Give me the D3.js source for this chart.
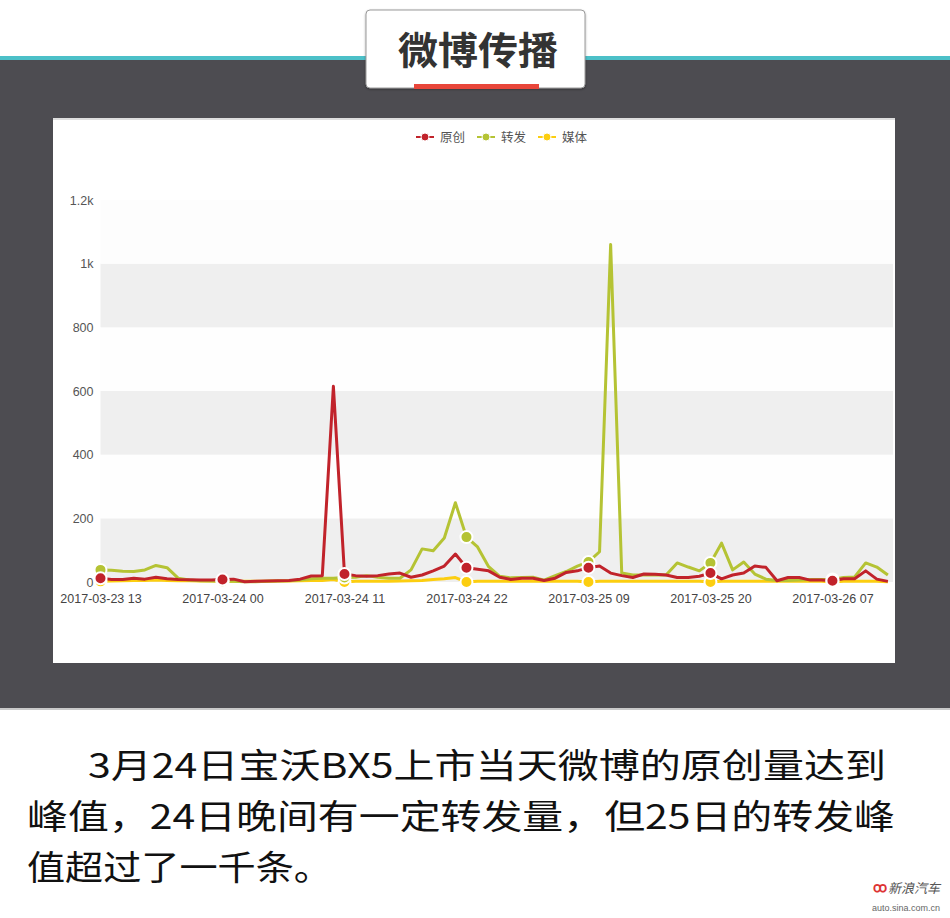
<!DOCTYPE html>
<html>
<head>
<meta charset="utf-8">
<script src="https://cdn.jsdelivr.net/npm/d3@7"></script>
<style>
  html, body { margin: 0; padding: 0; background: #fff; }
  svg { display: block; }
</style>
</head>
<body>
<svg id="chart" width="950" height="918"></svg>
<script>
// ---------- data ----------
const startHour = "2017-03-23 13";
const tickLabels = ["2017-03-23 13", "2017-03-24 00", "2017-03-24 11", "2017-03-24 22", "2017-03-25 09", "2017-03-25 20", "2017-03-26 07"];
const seriesNames = ["原创", "转发", "媒体"];
const original = [12, 8, 8, 12, 9, 15, 10, 8, 7, 6, 6, 8, 9, 1, 2, 3, 4, 5, 9, 19, 20, 615,
  25, 20, 18, 20, 25, 28, 15, 22, 35, 50, 88, 45, 40, 35, 15, 8, 12, 12, 5, 12, 30, 35,
  45, 50, 28, 20, 14, 25, 24, 22, 14, 14, 18, 28, 10, 22, 28, 50, 46, 4, 14, 14, 6, 6,
  4, 10, 10, 35, 9, 2];
const reposts = [38, 37, 34, 33, 38, 52, 45, 12, 6, 4, 3, 2, 2, 1, 1, 2, 3, 4, 6, 10, 12, 12,
  14, 15, 20, 15, 12, 12, 38, 104, 98, 138, 249, 141, 110, 48, 18, 13, 14, 15, 6, 20, 33,
  50, 63, 95, 1060, 28, 22, 22, 22, 22, 60, 47, 35, 60, 122, 38, 63, 25, 9, 5, 5, 6, 8,
  8, 8, 14, 16, 60, 47, 22];
const media = [2, 3, 4, 5, 5, 6, 5, 4, 4, 3, 3, 2, 2, 2, 2, 2, 3, 3, 4, 5, 5, 8,
  0, 2, 2, 2, 2, 3, 4, 5, 8, 10, 14, 0, 2, 2, 2, 2, 2, 2, 2, 2, 2, 2,
  0, 2, 2, 2, 2, 2, 2, 2, 2, 2, 2, 0, 2, 2, 2, 2, 2, 2, 2, 2, 2, 2,
  0, 2, 2, 2, 2, 1];
const yTicks = [0, 200, 400, 600, 800, 1000, 1200];
const yTickLabels = ["0", "200", "400", "600", "800", "1k", "1.2k"];
const colors = ["#c1232b", "#b5c334", "#fcce10"];
const captionLines = ["3月24日宝沃BX5上市当天微博的原创量达到", "峰值，24日晚间有一定转发量，但25日的转发峰", "值超过了一千条。"];

// categories: hourly timestamps
const parse = d3.timeParse("%Y-%m-%d %H");
const fmt = d3.timeFormat("%Y-%m-%d %H");
const t0 = parse(startHour);
const categories = original.map((_, i) => fmt(d3.timeHour.offset(t0, i)));

const svg = d3.select("#chart");
const CJK = "'Noto Sans CJK SC','Noto Sans',sans-serif";
const LAT = "'Liberation Sans',Arial,sans-serif";

// ---------- page decoration ----------
svg.append("rect").attr("x", 0).attr("y", 0).attr("width", 950).attr("height", 918).attr("fill", "#fff");
svg.append("rect").attr("x", 0).attr("y", 59).attr("width", 950).attr("height", 650).attr("fill", "#4d4c51");
svg.append("rect").attr("x", 0).attr("y", 56).attr("width", 950).attr("height", 4).attr("fill", "#4cc0c8");
svg.append("rect").attr("x", 0).attr("y", 708).attr("width", 950).attr("height", 2).attr("fill", "#c9c9c9");

// title box
const defs = svg.append("defs");
const f = defs.append("filter").attr("id", "sh").attr("x", "-10%").attr("y", "-10%").attr("width", "120%").attr("height", "130%");
f.append("feDropShadow").attr("dx", 0).attr("dy", 1).attr("stdDeviation", 1.2).attr("flood-color", "#000").attr("flood-opacity", 0.35);
svg.append("rect").attr("x", 366).attr("y", 10).attr("width", 219).attr("height", 78).attr("rx", 4)
  .attr("fill", "#fff").attr("stroke", "#9a9a9a").attr("stroke-width", 1).attr("filter", "url(#sh)");
svg.append("text").attr("x", 478).attr("y", 64).attr("text-anchor", "middle")
  .attr("font-family", CJK).attr("font-weight", "bold").attr("font-size", 38).attr("fill", "#333")
  .attr("textLength", 160).attr("lengthAdjust", "spacingAndGlyphs").text("微博传播");
svg.append("rect").attr("x", 414).attr("y", 84).attr("width", 125).attr("height", 5).attr("fill", "#e8463a");

// chart panel
svg.append("rect").attr("x", 53).attr("y", 118).attr("width", 842).attr("height", 545).attr("fill", "#fff");
svg.append("rect").attr("x", 53).attr("y", 118).attr("width", 842).attr("height", 2).attr("fill", "#dedede");

// ---------- scales ----------
const plotLeft = 100.5, plotRight = 893, yZero = 582, yTop = 200;
const step = 11.09;
const x = d3.scalePoint().domain(categories).range([plotLeft, plotLeft + step * (categories.length - 1)]);
const y = d3.scaleLinear().domain([0, 1200]).range([yZero, yTop]);

// grid bands
const g = svg.append("g");
yTicks.slice(0, -1).forEach((v, i) => {
  g.append("rect").attr("x", plotLeft).attr("width", plotRight - plotLeft)
    .attr("y", y(yTicks[i + 1])).attr("height", y(v) - y(yTicks[i + 1]))
    .attr("fill", i % 2 === 0 ? "#efefef" : (i === 5 ? "#fdfdfd" : "#fefefe"));
});

// y axis
const yAxis = d3.axisLeft(y).tickValues(yTicks).tickFormat((d, i) => yTickLabels[i]).tickSize(0).tickPadding(7);
const ya = svg.append("g").attr("transform", `translate(${plotLeft},0)`).call(yAxis);
ya.select(".domain").remove();
ya.selectAll("text").attr("font-family", LAT).attr("font-size", 12.5).attr("fill", "#555");

// x axis
const tickIdx = tickLabels.map(l => categories.indexOf(l));
const xAxis = d3.axisBottom(x).tickValues(tickLabels).tickSize(0).tickPadding(12);
const xa = svg.append("g").attr("transform", `translate(0,${yZero})`).call(xAxis);
xa.select(".domain").remove();
xa.selectAll("text").attr("font-family", LAT).attr("font-size", 12.5).attr("fill", "#444");

// ---------- series ----------
const seriesData = [original, reposts, media];
const line = d3.line().x((d, i) => x(categories[i])).y(d => y(d));
const drawOrder = [2, 1, 0];
drawOrder.forEach(s => {
  svg.append("path").datum(seriesData[s]).attr("d", line)
    .attr("fill", "none").attr("stroke", colors[s]).attr("stroke-width", 3)
    .attr("stroke-linejoin", "round");
});
drawOrder.forEach(s => {
  svg.append("g").selectAll("circle").data(tickIdx).join("circle")
    .attr("cx", i => x(categories[i])).attr("cy", i => y(seriesData[s][i]))
    .attr("r", 6).attr("fill", colors[s]).attr("stroke", "#fff").attr("stroke-width", 2);
});

// ---------- legend ----------
const legendX = [416, 477, 538];
seriesNames.forEach((name, s) => {
  const lg = svg.append("g").attr("transform", `translate(${legendX[s]},137)`);
  lg.append("line").attr("x1", 0).attr("x2", 18).attr("y1", 0).attr("y2", 0)
    .attr("stroke", colors[s]).attr("stroke-width", 2);
  lg.append("circle").attr("cx", 9).attr("cy", 0).attr("r", 4).attr("fill", colors[s]).attr("stroke", "#fff").attr("stroke-width", 1);
  lg.append("text").attr("x", 24).attr("y", 4.5).attr("font-family", CJK).attr("font-size", 12.5)
    .attr("fill", "#555").text(name);
});

// ---------- caption ----------
const capX = [88, 27, 27], capY = [778, 829, 880], capW = [798, 868, 305];
captionLines.forEach((t, i) => {
  svg.append("text").attr("x", capX[i]).attr("y", capY[i])
    .attr("font-family", CJK).attr("font-size", 34.5).attr("fill", "#111")
    .attr("textLength", capW[i]).attr("lengthAdjust", "spacingAndGlyphs").text(t);
});

// watermark
svg.append("text").attr("x", 940).attr("y", 893).attr("text-anchor", "end")
  .attr("font-family", CJK).attr("font-size", 13).attr("font-style", "italic").attr("fill", "#555").text("新浪汽车");
svg.append("text").attr("x", 873).attr("y", 892).attr("font-family", LAT).attr("font-size", 14)
  .attr("font-weight", "bold").attr("fill", "#d33").text("ꝏ");
svg.append("text").attr("x", 940).attr("y", 911).attr("text-anchor", "end")
  .attr("font-family", LAT).attr("font-size", 9).attr("fill", "#666").text("auto.sina.com.cn");
</script>
</body>
</html>
